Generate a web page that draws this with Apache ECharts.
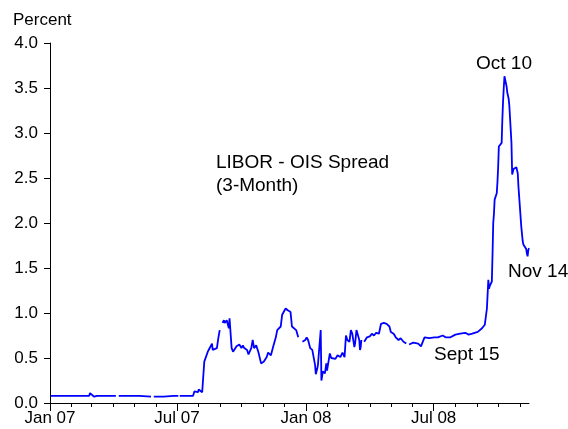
<!DOCTYPE html>
<html>
<head>
<meta charset="utf-8">
<script src="https://cdn.jsdelivr.net/npm/echarts@6/dist/echarts.min.js"></script>
<style>
  html, body { margin: 0; padding: 0; background: #fff; }
  #main { width: 568px; height: 429px; }
</style>
</head>
<body>
<div id="main"></div>
<script>
// 3-month LIBOR - OIS spread, percent
var dates = [
  '2007-01-02', '2007-01-16', '2007-01-30', '2007-02-13', '2007-02-26', '2007-02-27', '2007-03-01', '2007-03-05',
  '2007-03-09', '2007-03-20', '2007-04-05', '2007-04-06', '2007-04-09', '2007-04-24', '2007-05-08', '2007-05-25',
  '2007-05-28', '2007-05-29', '2007-06-12', '2007-06-26', '2007-07-03', '2007-07-04', '2007-07-05', '2007-07-17',
  '2007-07-24', '2007-07-26', '2007-07-31', '2007-08-01', '2007-08-03', '2007-08-06', '2007-08-09', '2007-08-10',
  '2007-08-14', '2007-08-16', '2007-08-20', '2007-08-21', '2007-08-23', '2007-08-27', '2007-08-29', '2007-08-31',
  '2007-09-03', '2007-09-04', '2007-09-06', '2007-09-07', '2007-09-10', '2007-09-11', '2007-09-13', '2007-09-14',
  '2007-09-17', '2007-09-19', '2007-09-21', '2007-09-24', '2007-09-26', '2007-09-28', '2007-10-01', '2007-10-03',
  '2007-10-05', '2007-10-09', '2007-10-11', '2007-10-15', '2007-10-17', '2007-10-19', '2007-10-22', '2007-10-25',
  '2007-10-29', '2007-11-02', '2007-11-06', '2007-11-08', '2007-11-12', '2007-11-15', '2007-11-19', '2007-11-21',
  '2007-11-26', '2007-11-27', '2007-11-28', '2007-12-03', '2007-12-06', '2007-12-10', '2007-12-12', '2007-12-14',
  '2007-12-18', '2007-12-21', '2007-12-24', '2007-12-27', '2007-12-31', '2008-01-02', '2008-01-04', '2008-01-07',
  '2008-01-10', '2008-01-14', '2008-01-15', '2008-01-17', '2008-01-18', '2008-01-22', '2008-01-23', '2008-01-25',
  '2008-01-28', '2008-01-30', '2008-01-31', '2008-02-04', '2008-02-06', '2008-02-08', '2008-02-12', '2008-02-15',
  '2008-02-19', '2008-02-22', '2008-02-25', '2008-02-27', '2008-02-29', '2008-03-03', '2008-03-05', '2008-03-07',
  '2008-03-10', '2008-03-11', '2008-03-13', '2008-03-17', '2008-03-18', '2008-03-19', '2008-03-20', '2008-03-21',
  '2008-03-24', '2008-03-28', '2008-04-01', '2008-04-04', '2008-04-07', '2008-04-10', '2008-04-14', '2008-04-17',
  '2008-04-21', '2008-04-23', '2008-04-25', '2008-04-29', '2008-05-01', '2008-05-05', '2008-05-08', '2008-05-12',
  '2008-05-15', '2008-05-19', '2008-05-23', '2008-05-26', '2008-05-27', '2008-06-02', '2008-06-09', '2008-06-11',
  '2008-06-13', '2008-06-18', '2008-06-25', '2008-07-02', '2008-07-07', '2008-07-14', '2008-07-18', '2008-07-25',
  '2008-08-01', '2008-08-08', '2008-08-15', '2008-08-20', '2008-08-25', '2008-09-02', '2008-09-08', '2008-09-10',
  '2008-09-12', '2008-09-15', '2008-09-16', '2008-09-17', '2008-09-18', '2008-09-19', '2008-09-22', '2008-09-23',
  '2008-09-24', '2008-09-25', '2008-09-26', '2008-09-29', '2008-09-30', '2008-10-01', '2008-10-02', '2008-10-03',
  '2008-10-06', '2008-10-07', '2008-10-08', '2008-10-09', '2008-10-10', '2008-10-13', '2008-10-14', '2008-10-15',
  '2008-10-16', '2008-10-17', '2008-10-20', '2008-10-21', '2008-10-22', '2008-10-23', '2008-10-24', '2008-10-27',
  '2008-10-28', '2008-10-29', '2008-10-30', '2008-10-31', '2008-11-03', '2008-11-04', '2008-11-05', '2008-11-06',
  '2008-11-07', '2008-11-10', '2008-11-11', '2008-11-12', '2008-11-13', '2008-11-14'
];
var spread = [
  0.08, 0.08, 0.08, 0.08, 0.08, 0.11, 0.09, 0.07,
  0.08, 0.08, 0.08, null, 0.08, 0.08, 0.08, 0.07,
  null, 0.07, 0.07, 0.08, 0.08, null, 0.08, 0.08,
  0.08, 0.13, 0.12, 0.15, 0.17, 0.12, 0.46, 0.48,
  0.57, 0.60, 0.66, 0.59, 0.59, 0.61, 0.72, 0.81,
  null, 0.89, 0.92, 0.89, 0.92, 0.89, 0.83, 0.94,
  0.61, 0.57, 0.59, 0.63, 0.62, 0.65, 0.61, 0.64,
  0.61, 0.59, 0.54, 0.61, 0.70, 0.61, 0.64, 0.57,
  0.44, 0.46, 0.51, 0.56, 0.53, 0.62, 0.73, 0.81,
  0.85, 0.83, 0.98, 1.05, 1.03, 1.01, 0.85, 0.83,
  0.81, 0.73, null, 0.68, 0.70, 0.73, 0.70, 0.61,
  0.59, 0.42, 0.32, 0.38, 0.42, 0.81, 0.25, 0.35,
  0.33, 0.44, 0.36, 0.55, 0.50, 0.51, 0.49, 0.53,
  0.51, 0.56, 0.51, 0.75, 0.70, 0.68, 0.81, 0.77,
  0.62, 0.66, 0.81, 0.70, 0.59, 0.62, 0.70, null,
  0.68, 0.73, 0.74, 0.77, 0.75, 0.78, 0.77, 0.88,
  0.89, 0.87, 0.88, 0.85, 0.79, 0.77, 0.73, 0.70,
  0.72, 0.68, 0.66, null, 0.65, 0.67, 0.66, 0.68,
  0.63, 0.73, 0.72, 0.73, 0.73, 0.75, 0.73, 0.73,
  0.76, 0.77, 0.78, 0.76, 0.77, 0.79, 0.83, 0.85,
  0.87, 1.05, 1.03, 1.37, 1.27, 1.30, 1.35, 1.65,
  2.00, 2.10, 2.26, 2.33, 2.45, 2.62, 2.85, 2.87,
  2.89, 3.15, 3.35, 3.50, 3.63, 3.52, 3.45, 3.43,
  3.38, 3.30, 2.89, 2.54, 2.55, 2.60, 2.61, 2.62,
  2.60, 2.55, 2.40, 2.29, 1.96, 1.88, 1.80, 1.76,
  1.74, 1.71, 1.66, 1.63, 1.70, 1.72
];

// labelled ticks and monthly minor ticks
var majorTicks = ['2007-01-01', '2007-07-01', '2008-01-01', '2008-07-01'];
var monthTicks = [
  '2007-01-01', '2007-02-01', '2007-03-01', '2007-04-01', '2007-05-01', '2007-06-01',
  '2007-07-01', '2007-08-01', '2007-09-01', '2007-10-01', '2007-11-01', '2007-12-01',
  '2008-01-01', '2008-02-01', '2008-03-01', '2008-04-01', '2008-05-01', '2008-06-01',
  '2008-07-01', '2008-08-01', '2008-09-01', '2008-10-01', '2008-11-01'
];
var monthNames = ['Jan', 'Feb', 'Mar', 'Apr', 'May', 'Jun', 'Jul', 'Aug', 'Sep', 'Oct', 'Nov', 'Dec'];

var xMin = '2007-01-01';
var xMax = '2008-11-14';

var font = '"Liberation Sans", Arial, sans-serif';

// dates go on a plain value axis as timestamps, so custom ticks work
function toTime(s) {
  return echarts.time.parse(s).getTime();
}

var seriesData = dates.map(function (d, i) {
  return [toTime(d), spread[i]];
});

var myChart = echarts.init(document.getElementById('main'));

myChart.setOption({
  animation: false,
  backgroundColor: '#fff',
  grid: {
    left: 50,
    right: 39,
    top: 43,
    bottom: 26,
    containLabel: false
  },
  xAxis: [{
    type: 'value',
    min: toTime(xMin),
    max: toTime(xMax),
    position: 'bottom',
    axisLine: { lineStyle: { color: '#000', width: 1 } },
    axisTick: {
      show: true,
      length: 8,
      lineStyle: { color: '#000' },
      customValues: majorTicks.map(toTime)
    },
    axisLabel: {
      margin: 7,
      color: '#000',
      fontSize: 17,
      fontFamily: font,
      customValues: majorTicks.map(toTime),
      formatter: function (val) {
        var d = new Date(val);
        return monthNames[d.getMonth()] + ' ' + String(d.getFullYear()).slice(2);
      }
    },
    splitLine: { show: false }
  }, {
    // monthly short ticks only
    type: 'value',
    min: toTime(xMin),
    max: toTime(xMax),
    position: 'bottom',
    axisLine: { show: false },
    axisTick: {
      show: true,
      length: 4,
      lineStyle: { color: '#000' },
      customValues: monthTicks.map(toTime)
    },
    axisLabel: { show: false, customValues: monthTicks.map(toTime) },
    splitLine: { show: false }
  }],
  yAxis: {
    type: 'value',
    min: 0,
    max: 4,
    interval: 0.5,
    axisLine: { show: true, lineStyle: { color: '#000', width: 1 } },
    axisTick: { show: true, length: 6, lineStyle: { color: '#000' } },
    axisLabel: {
      margin: 12,
      color: '#000',
      fontSize: 17,
      fontFamily: font,
      formatter: function (v) { return v.toFixed(1); }
    },
    splitLine: { show: false }
  },
  graphic: [
    { type: 'text', left: 13, top: 12, style: { text: 'Percent', fill: '#000', font: '17px ' + font } },
    { type: 'text', left: 216, top: 151, style: { text: 'LIBOR - OIS Spread\n(3-Month)', fill: '#000', font: '19px ' + font, lineHeight: 23 } },
    { type: 'text', left: 476, top: 54, style: { text: 'Oct 10', fill: '#000', font: '19px ' + font } },
    { type: 'text', left: 508, top: 262, style: { text: 'Nov 14', fill: '#000', font: '19px ' + font } },
    { type: 'text', left: 434, top: 345, style: { text: 'Sept 15', fill: '#000', font: '19px ' + font } }
  ],
  series: [{
    name: 'LIBOR - OIS',
    type: 'line',
    xAxisIndex: 0,
    data: seriesData,
    showSymbol: false,
    connectNulls: false,
    lineStyle: { color: '#0000ff', width: 1.8 },
    itemStyle: { color: '#0000ff' }
  }]
});
</script>
</body>
</html>
